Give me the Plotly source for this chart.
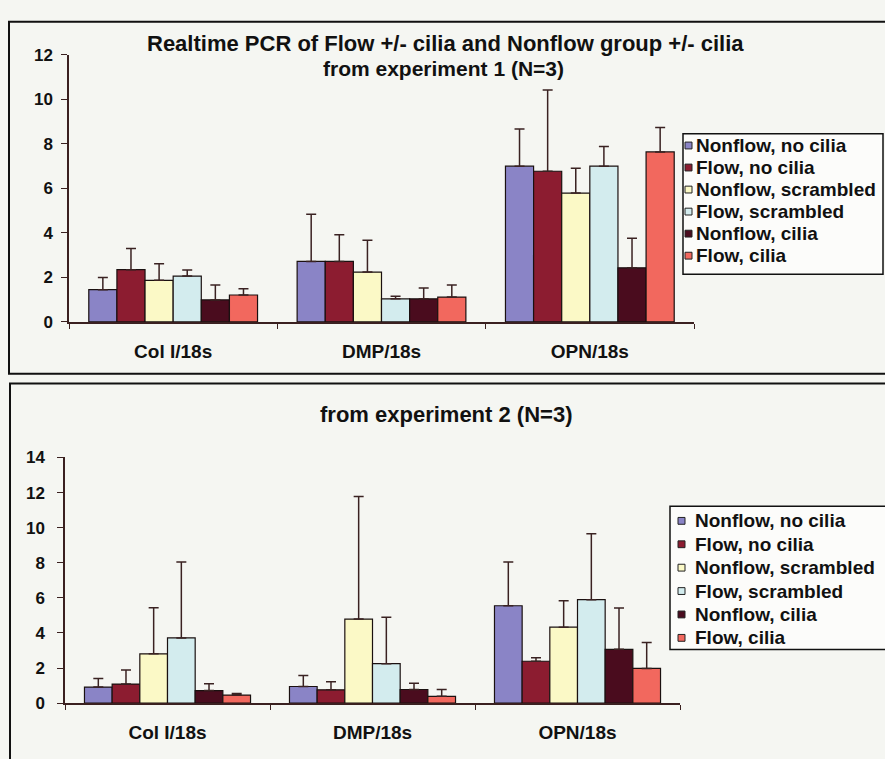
import plotly.graph_objects as go

# Gene targets (normalised to 18s) and treatment groups
genes = ["Col I/18s", "DMP/18s", "OPN/18s"]
groups = ["Nonflow, no cilia", "Flow, no cilia", "Nonflow, scrambled",
          "Flow, scrambled", "Nonflow, cilia", "Flow, cilia"]
colors = ["#8a84c6", "#8c1c30", "#fbf9c6", "#d3ecee", "#4a0c1e", "#f2685e"]

# Experiment 1: mean expression per group, one value per gene
exp1_mean = {
    "Nonflow, no cilia":  [1.45, 2.72, 7.00],
    "Flow, no cilia":     [2.35, 2.72, 6.77],
    "Nonflow, scrambled": [1.87, 2.24, 5.79],
    "Flow, scrambled":    [2.06, 1.04, 7.00],
    "Nonflow, cilia":     [0.99, 1.04, 2.43],
    "Flow, cilia":        [1.21, 1.12, 7.64],
}
exp1_err = {
    "Nonflow, no cilia":  [0.55, 2.12, 1.67],
    "Flow, no cilia":     [0.95, 1.20, 3.65],
    "Nonflow, scrambled": [0.74, 1.43, 1.12],
    "Flow, scrambled":    [0.27, 0.12, 0.88],
    "Nonflow, cilia":     [0.67, 0.49, 1.33],
    "Flow, cilia":        [0.28, 0.54, 1.10],
}

# Experiment 2
exp2_mean = {
    "Nonflow, no cilia":  [0.92, 0.95, 5.55],
    "Flow, no cilia":     [1.09, 0.76, 2.39],
    "Nonflow, scrambled": [2.81, 4.79, 4.33],
    "Flow, scrambled":    [3.72, 2.25, 5.90],
    "Nonflow, cilia":     [0.72, 0.78, 3.07],
    "Flow, cilia":        [0.46, 0.39, 1.98],
}
exp2_err = {
    "Nonflow, no cilia":  [0.48, 0.63, 2.50],
    "Flow, no cilia":     [0.80, 0.46, 0.20],
    "Nonflow, scrambled": [2.63, 6.99, 1.51],
    "Flow, scrambled":    [4.33, 2.65, 3.76],
    "Nonflow, cilia":     [0.39, 0.35, 2.35],
    "Flow, cilia":        [0.09, 0.39, 1.48],
}

W, H = 885, 759
BG = "#f5f6f2"
FONT = "Liberation Sans, Arial, sans-serif"
INK = "#111"


def px_x(p):
    return p / W


def px_y(p):
    return 1 - p / H


fig = go.Figure()


def add_bars(means, errs, xa, ya):
    for i, g in enumerate(groups):
        fig.add_trace(go.Bar(
            x=genes, y=means[g], name=g, showlegend=False,
            marker=dict(color=colors[i], line=dict(color="#1a1010", width=1.2)),
            error_y=dict(type="data", symmetric=False, array=errs[g],
                         arrayminus=[0] * len(genes), color="#3a2222",
                         thickness=1.5, width=5),
            xaxis=xa, yaxis=ya,
        ))


add_bars(exp1_mean, exp1_err, "x", "y")
add_bars(exp2_mean, exp2_err, "x2", "y2")

axis_line = "#3a2020"
xcommon = dict(type="category", range=[-0.5, 2.5], showgrid=False,
               showline=True, linecolor=axis_line, linewidth=1.5,
               ticks="outside", tickson="boundaries", ticklen=5,
               tickcolor=axis_line, ticklabelstandoff=11,
               tickfont=dict(family=FONT, size=19, color=INK, weight="bold"))
ycommon = dict(showgrid=False, zeroline=False, showline=True,
               linecolor=axis_line, linewidth=1.5, ticks="outside",
               ticklen=6, tickcolor=axis_line, dtick=2,
               tickfont=dict(family=FONT, size=17, color=INK, weight="bold"))

fig.update_layout(
    width=W, height=H,
    margin=dict(l=0, r=0, t=0, b=0),
    paper_bgcolor=BG, plot_bgcolor=BG,
    barmode="group", bargap=0.19, bargroupgap=0,
    xaxis=dict(xcommon, domain=[px_x(69), px_x(694)], anchor="y"),
    yaxis=dict(ycommon, range=[0, 12], domain=[px_y(321), px_y(47)], anchor="x",
               ticklabelstandoff=5),
    xaxis2=dict(xcommon, domain=[px_x(65), px_x(680)], anchor="y2"),
    yaxis2=dict(ycommon, range=[0, 14], domain=[px_y(712), px_y(460)], anchor="x2",
                ticklabelstandoff=9),
    showlegend=False,
)

# Panel frames
fig.add_shape(type="rect", xref="paper", yref="paper",
              x0=px_x(9), x1=px_x(900), y0=px_y(374), y1=px_y(13),
              line=dict(color=INK, width=2), fillcolor="rgba(0,0,0,0)", layer="below")
fig.add_shape(type="rect", xref="paper", yref="paper",
              x0=px_x(10), x1=px_x(900), y0=px_y(790), y1=px_y(384),
              line=dict(color=INK, width=2), fillcolor="rgba(0,0,0,0)", layer="below")


def add_key(box, first_y, step, sq_x, text_x, size):
    """Boxed key listing the six groups with colour swatches."""
    bx0, by0, bx1, by1 = box
    fig.add_shape(type="rect", xref="paper", yref="paper",
                  x0=px_x(bx0), x1=px_x(bx1), y0=px_y(by1), y1=px_y(by0),
                  line=dict(color=INK, width=1.5), fillcolor="#fcfcfa")
    for i, g in enumerate(groups):
        cy = first_y + i * step
        fig.add_shape(type="rect", xref="paper", yref="paper",
                      x0=px_x(sq_x), x1=px_x(sq_x + 7),
                      y0=px_y(cy + 3.5), y1=px_y(cy - 3.5),
                      line=dict(color="#222", width=1), fillcolor=colors[i])
        fig.add_annotation(x=px_x(text_x), y=px_y(cy), xref="paper", yref="paper",
                           text=g, showarrow=False, xanchor="left", yanchor="middle",
                           font=dict(family=FONT, size=size, color=INK, weight="bold"))


add_key((683, 128, 883, 272), 140, 22.6, 685, 694, 19)
add_key((670, 510, 892, 657), 525, 24, 678, 693, 19)

# Titles
fig.add_annotation(x=px_x(445), y=px_y(35), xref="paper", yref="paper",
                   text="Realtime PCR of Flow +/- cilia and Nonflow group +/- cilia",
                   showarrow=False, xanchor="center", yanchor="middle",
                   font=dict(family=FONT, size=22, color=INK, weight="bold"))
fig.add_annotation(x=px_x(443), y=px_y(61), xref="paper", yref="paper",
                   text="from experiment 1 (N=3)",
                   showarrow=False, xanchor="center", yanchor="middle",
                   font=dict(family=FONT, size=21, color=INK, weight="bold"))
fig.add_annotation(x=px_x(446), y=px_y(416), xref="paper", yref="paper",
                   text="from experiment 2 (N=3)",
                   showarrow=False, xanchor="center", yanchor="middle",
                   font=dict(family=FONT, size=22, color=INK, weight="bold"))

fig.write_html("out.html")
